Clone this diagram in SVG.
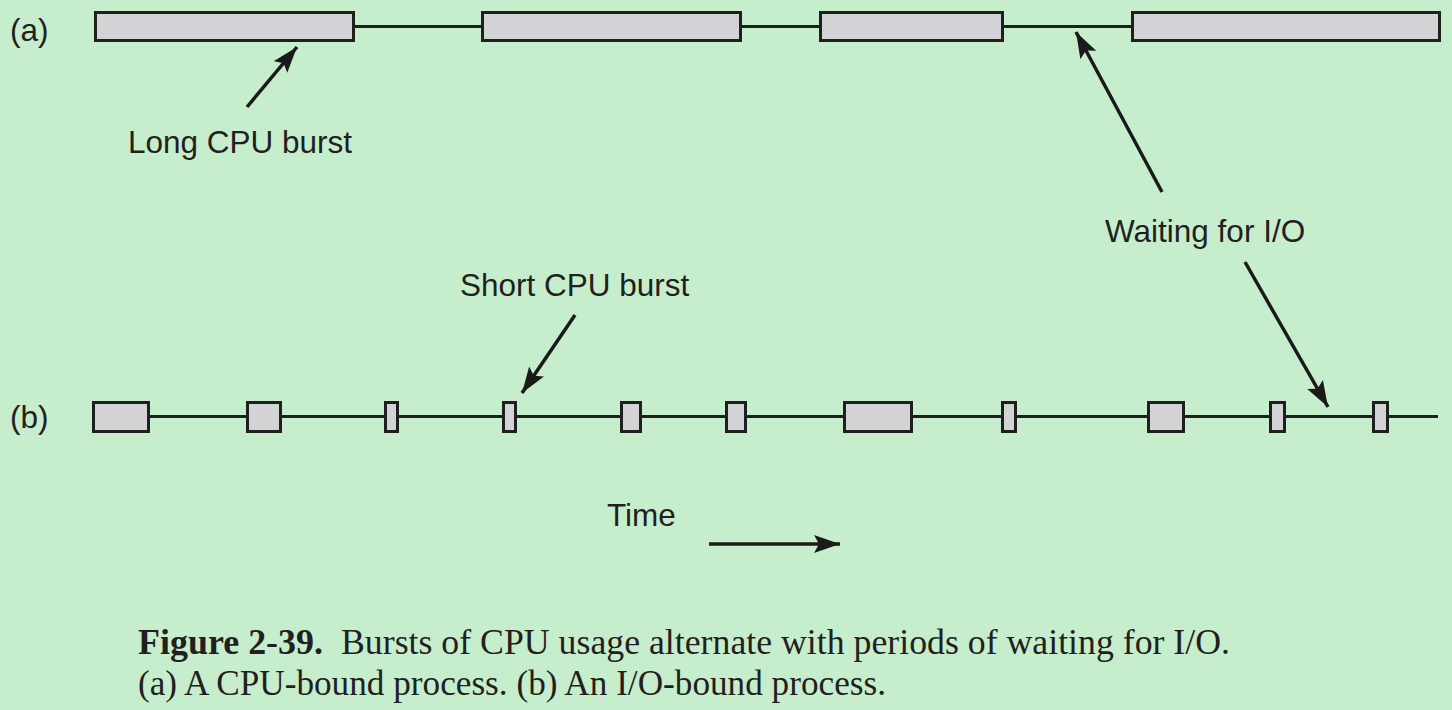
<svg xmlns="http://www.w3.org/2000/svg" width="1452" height="710" viewBox="0 0 1452 710">
<defs>
<style>
.bg{fill:#c6eecd}
.burst{fill:#d2d3d5;stroke:#1f1f1f;stroke-width:3}
.tl{stroke:#1f1f1f;stroke-width:3;fill:none}
.ar{stroke:#1a1a1a;stroke-width:3.5;fill:none;marker-end:url(#ah)}
.lbl{font-family:"Liberation Sans",Arial,sans-serif;font-size:31.5px;fill:#231f20}
.cap{font-family:"Liberation Serif","Times New Roman",serif;font-size:35px;fill:#231f20}
</style>
<marker id="ah" markerUnits="userSpaceOnUse" markerWidth="28" markerHeight="20" refX="26" refY="9" orient="auto">
<path d="M0,0 L26,9 L0,18 L5,9 Z" fill="#1a1a1a"/>
</marker>
</defs>
<rect class="bg" x="0" y="0" width="1452" height="710"/>
<g id="connectors">
<line class="tl" x1="355" y1="26.5" x2="1131" y2="26.5"/>
<line class="tl" x1="150" y1="416.5" x2="1438" y2="416.5"/>
<line class="ar" x1="247" y1="107" x2="297" y2="47"/>
<line class="ar" x1="1162" y1="192" x2="1076" y2="32"/>
<line class="ar" x1="575" y1="315" x2="522" y2="393"/>
<line class="ar" x1="1245" y1="262" x2="1328" y2="407"/>
<line class="ar" x1="709" y1="544" x2="840" y2="544"/>
</g>
<g id="row-a">
<text class="lbl" x="10" y="41">(a)</text>
<rect id="a1" class="burst" x="95.5" y="12.5" width="258" height="28"/>
<rect id="a2" class="burst" x="482.5" y="12.5" width="258" height="28"/>
<rect id="a3" class="burst" x="820.5" y="12.5" width="182" height="28"/>
<rect id="a4" class="burst" x="1132.5" y="12.5" width="307" height="28"/>
</g>
<g id="row-b">
<text class="lbl" x="10" y="428">(b)</text>
<rect id="b1" class="burst" x="93.5" y="402.5" width="55" height="29"/>
<rect id="b2" class="burst" x="247.5" y="402.5" width="33" height="29"/>
<rect id="b3" class="burst" x="385.5" y="402.5" width="12" height="29"/>
<rect id="b4" class="burst" x="503.5" y="402.5" width="12" height="29"/>
<rect id="b5" class="burst" x="621.5" y="402.5" width="19" height="29"/>
<rect id="b6" class="burst" x="726.5" y="402.5" width="19" height="29"/>
<rect id="b7" class="burst" x="844.5" y="402.5" width="67" height="29"/>
<rect id="b8" class="burst" x="1002.5" y="402.5" width="13" height="29"/>
<rect id="b9" class="burst" x="1148.5" y="402.5" width="35" height="29"/>
<rect id="b10" class="burst" x="1270.5" y="402.5" width="14" height="29"/>
<rect id="b11" class="burst" x="1373.5" y="402.5" width="14" height="29"/>
</g>
<g id="labels">
<text class="lbl" x="128" y="153">Long CPU burst</text>
<text class="lbl" x="1105" y="242">Waiting for I/O</text>
<text class="lbl" x="460" y="296">Short CPU burst</text>
<text class="lbl" x="607" y="526">Time</text>
</g>
<g id="caption">
<text class="cap" x="138" y="654" font-weight="bold" textLength="185" lengthAdjust="spacingAndGlyphs">Figure 2-39.</text>
<text class="cap" x="341" y="654" textLength="889" lengthAdjust="spacingAndGlyphs">Bursts of CPU usage alternate with periods of waiting for I/O.</text>
<text class="cap" x="138" y="695" textLength="748" lengthAdjust="spacingAndGlyphs">(a) A CPU-bound process. (b) An I/O-bound process.</text>
</g>
</svg>
